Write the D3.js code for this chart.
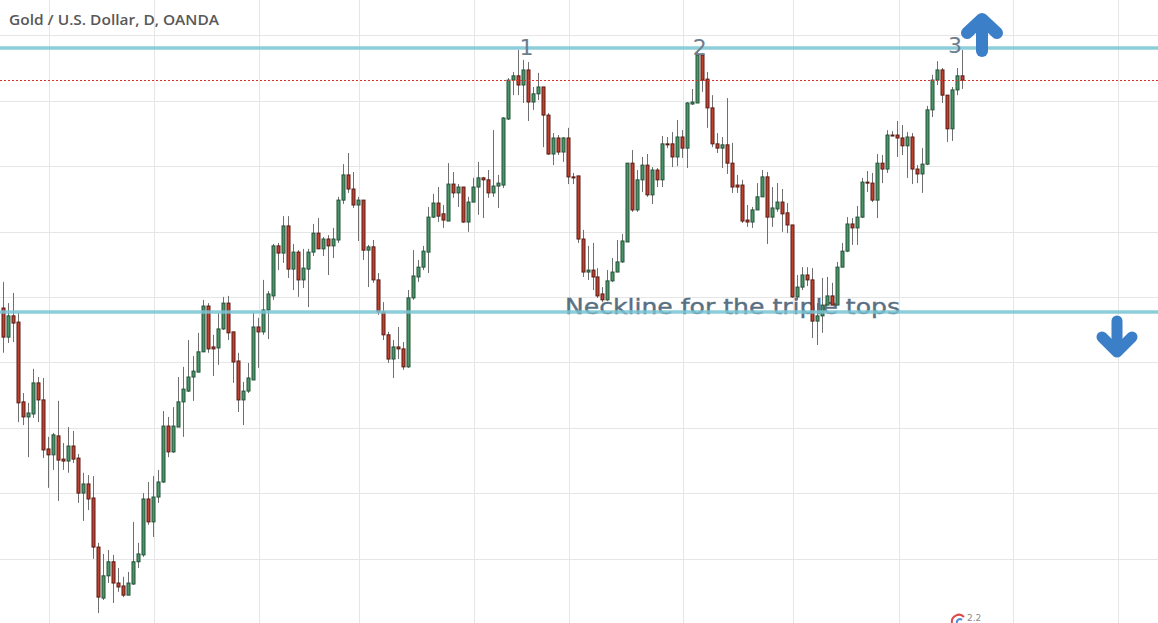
<!DOCTYPE html>
<html>
<head>
<meta charset="utf-8">
<script src="https://cdn.jsdelivr.net/npm/d3@7"></script>
<style>
  html, body { margin: 0; padding: 0; background: #ffffff; }
  svg { display: block; }
</style>
</head>
<body>
<div id="chart"></div>
<script>
// ---------- DATA ----------
const title = "Gold / U.S. Dollar, D, OANDA";
const annotation = "Neckline for the triple tops";

const open = [
1296.6,1287.7,1294.2,1292.3,1267.9,1263.3,1264.2,1273.7,1268.5,1253.5,
1251.7,1257.5,1250.4,1249.8,1254.4,1250.7,1240.0,1242.8,1238.5,1223.5,
1207.9,1214.7,1219.0,1212.5,1211.6,1208.8,1212.2,1219.0,1221.1,1238.2,
1231.2,1238.8,1243.4,1260.5,1252.6,1260.2,1267.9,1271.2,1275.5,1277.0,
1283.2,1297.2,1284.7,1284.4,1290.2,1298.1,1289.3,1280.4,1268.5,1271.2,
1274.6,1290.8,1289.3,1296.0,1300.3,1315.6,1313.4,1321.7,1308.5,1313.7,
1305.2,1308.5,1313.7,1319.5,1314.7,1317.7,1315.6,1317.4,1329.6,1337.3,
1333.0,1328.1,1329.6,1314.3,1315.3,1305.2,1295.4,1288.4,1281.0,1284.7,
1284.1,1278.6,1299.7,1306.1,1309.1,1313.7,1324.4,1328.7,1325.4,1323.2,
1334.5,1331.8,1333.6,1322.9,1329.0,1333.6,1336.4,1335.8,1331.8,1333.9,
1334.2,1354.4,1366.3,1367.6,1364.8,1369.4,1359.6,1362.1,1364.2,1355.6,
1343.7,1348.6,1344.3,1348.6,1336.7,1337.0,1317.7,1307.6,1308.2,1306.1,
1300.9,1299.1,1304.9,1307.6,1310.7,1316.8,1340.9,1326.6,1335.8,1340.3,
1331.2,1338.8,1335.8,1346.8,1346.8,1342.8,1348.9,1345.5,1359.0,1359.3,
1374.0,1366.6,1357.8,1346.8,1345.5,1346.5,1340.9,1334.2,1334.2,1323.5,
1322.9,1326.6,1330.6,1336.7,1324.4,1326.9,1329.0,1325.7,1322.0,1300.0,
1303.0,1306.7,1305.2,1292.6,1294.2,1297.5,1300.3,1297.5,1309.1,1314.0,
1322.3,1321.1,1324.4,1335.1,1334.8,1329.6,1340.9,1339.1,1349.5,1349.5,
1348.6,1346.2,1348.9,1339.1,1337.6,1340.6,1357.2,1366.3,1369.4,1361.7,
1351.4,1363.3,1367.6];

const high = [
1304.6,1298.1,1301.2,1295.1,1270.6,1267.6,1278.0,1275.5,1275.2,1257.2,
1258.4,1268.2,1255.3,1260.2,1259.0,1252.0,1246.2,1245.5,1245.2,1224.8,
1221.4,1222.6,1221.1,1217.1,1214.4,1215.9,1231.2,1224.8,1240.0,1243.4,
1245.2,1247.1,1265.1,1263.3,1266.3,1275.5,1278.6,1286.8,1281.9,1289.0,
1299.1,1298.1,1288.4,1295.1,1300.0,1300.3,1289.3,1282.9,1274.0,1279.8,
1295.1,1293.6,1305.2,1301.8,1316.2,1316.5,1324.7,1324.7,1316.2,1314.3,
1314.7,1314.7,1322.3,1324.1,1318.3,1318.9,1321.1,1330.6,1340.6,1344.0,
1338.2,1330.6,1329.6,1315.9,1317.4,1307.3,1298.4,1289.3,1286.8,1290.8,
1286.2,1302.1,1314.3,1311.3,1315.6,1327.5,1331.5,1333.6,1328.1,1340.9,
1338.2,1334.5,1333.6,1330.6,1336.4,1341.3,1336.7,1338.8,1351.0,1337.3,
1355.0,1366.9,1368.8,1375.5,1372.5,1371.8,1364.2,1368.5,1364.2,1356.2,
1350.1,1349.5,1348.9,1351.7,1337.9,1337.0,1320.5,1315.6,1316.5,1308.8,
1303.0,1308.2,1311.9,1317.4,1319.2,1340.9,1344.9,1338.8,1342.8,1343.7,
1339.7,1339.4,1349.2,1348.9,1350.4,1354.1,1351.0,1359.6,1363.6,1374.9,
1374.6,1368.8,1361.7,1350.1,1348.9,1360.8,1347.1,1337.3,1335.8,1328.1,
1327.5,1334.8,1338.8,1338.2,1333.6,1334.8,1333.0,1328.7,1322.0,1306.7,
1309.1,1309.1,1308.8,1298.1,1305.8,1306.1,1304.3,1310.7,1316.5,1324.4,
1324.1,1327.8,1336.4,1338.5,1337.9,1343.7,1343.4,1351.0,1350.7,1353.8,
1352.6,1350.4,1350.1,1340.3,1345.5,1358.4,1367.9,1372.1,1370.0,1361.7,
1364.2,1370.0,1375.5];

const low = [
1282.9,1285.9,1286.2,1261.7,1260.8,1251.0,1263.0,1261.7,1250.7,1241.6,
1247.1,1237.6,1247.1,1246.2,1249.2,1237.0,1231.5,1234.8,1219.9,1203.3,
1207.3,1212.5,1206.4,1209.8,1208.2,1208.8,1211.9,1217.1,1220.5,1230.3,
1226.6,1237.0,1243.1,1251.0,1252.3,1260.2,1257.2,1270.9,1268.2,1277.0,
1283.2,1282.9,1275.8,1279.2,1289.9,1286.8,1273.7,1264.8,1260.8,1270.6,
1274.6,1278.3,1288.4,1287.1,1299.1,1308.2,1310.4,1305.8,1302.1,1300.0,
1302.7,1296.9,1312.5,1314.7,1312.5,1306.7,1311.9,1316.5,1328.4,1331.8,
1327.2,1317.1,1311.3,1303.0,1304.3,1294.5,1286.8,1279.8,1275.2,1281.0,
1277.7,1278.3,1299.1,1304.6,1308.2,1307.3,1324.1,1322.9,1321.1,1323.2,
1330.3,1327.5,1322.6,1319.9,1329.0,1325.1,1324.1,1330.3,1330.6,1327.2,
1333.3,1354.1,1361.7,1361.7,1359.3,1353.8,1357.2,1360.2,1345.8,1343.4,
1340.3,1343.4,1341.3,1334.5,1334.5,1316.5,1306.1,1305.2,1302.1,1299.7,
1298.4,1298.8,1304.6,1307.6,1310.4,1316.8,1326.0,1326.0,1332.1,1330.6,
1328.4,1333.6,1333.6,1345.5,1339.7,1340.0,1342.5,1339.4,1358.7,1359.3,
1362.7,1351.7,1345.8,1344.0,1339.4,1337.6,1331.8,1331.8,1322.6,1321.4,
1321.1,1326.6,1330.6,1316.2,1321.4,1326.0,1319.9,1319.5,1299.7,1299.1,
1302.1,1303.3,1287.4,1285.3,1289.0,1297.5,1297.5,1297.5,1309.1,1313.7,
1315.9,1315.9,1324.1,1332.1,1329.0,1324.1,1334.8,1337.9,1349.2,1342.8,
1343.4,1336.4,1334.5,1334.8,1331.8,1340.3,1355.0,1364.8,1359.3,1347.4,
1347.7,1361.7,1363.6];

const close = [
1287.7,1294.2,1292.0,1267.6,1263.3,1264.5,1273.7,1268.5,1253.2,1251.7,
1257.8,1250.1,1249.8,1254.4,1250.4,1240.0,1242.8,1238.2,1223.5,1208.2,
1214.7,1219.0,1212.5,1211.3,1208.8,1212.5,1219.0,1221.4,1238.2,1231.2,
1238.8,1243.4,1260.5,1252.6,1260.5,1267.9,1271.8,1275.5,1277.3,1283.2,
1297.2,1284.1,1284.1,1290.2,1298.1,1289.0,1280.1,1268.5,1271.2,1275.2,
1290.8,1289.3,1296.0,1300.9,1315.6,1313.4,1321.7,1308.5,1313.7,1305.2,
1308.8,1313.7,1319.5,1314.7,1317.7,1315.6,1317.7,1329.6,1337.3,1333.0,
1328.1,1329.6,1314.3,1315.3,1305.2,1295.4,1288.4,1281.0,1284.7,1284.1,
1278.6,1299.7,1306.4,1309.1,1314.0,1324.4,1328.7,1324.7,1323.5,1334.5,
1331.8,1333.6,1322.9,1329.0,1333.6,1336.4,1335.8,1331.8,1333.9,1334.8,
1354.7,1366.3,1367.6,1364.8,1369.4,1359.6,1362.1,1364.2,1355.6,1343.7,
1348.6,1344.3,1348.6,1336.7,1336.4,1317.7,1307.6,1308.2,1306.1,1300.3,
1299.1,1304.9,1307.6,1310.7,1317.1,1340.9,1326.6,1335.8,1340.3,1331.2,
1338.8,1335.8,1346.8,1346.5,1342.8,1348.9,1345.5,1359.3,1359.6,1374.0,
1366.3,1357.8,1346.8,1345.5,1346.5,1340.9,1333.6,1333.6,1323.2,1322.9,
1326.6,1330.6,1336.7,1324.4,1327.2,1329.0,1325.4,1322.0,1300.0,1303.0,
1306.7,1305.2,1292.6,1294.2,1297.5,1300.3,1297.5,1309.1,1314.0,1322.3,
1321.1,1324.4,1335.1,1334.8,1329.6,1340.9,1339.1,1349.5,1349.2,1348.6,
1346.2,1348.9,1339.1,1337.6,1340.6,1357.2,1366.3,1369.4,1361.7,1351.4,
1363.3,1367.6,1366.3];

// horizontal grid levels (price) and vertical grid positions (bar index)
const priceTicks = [1220, 1240, 1260, 1280, 1300, 1320, 1340, 1360, 1380];
const timeGridIdx = [9.15, 30.2, 51.2, 71.2, 94.3, 113.3, 136.1, 158.2, 179.4, 202.2, 223.2];

// drawn horizontal levels
const resistanceLevel = 1376.1;
const necklineLevel = 1295.4;
const lastPrice = close[close.length - 1];

// peak labels
const peakLabels = ["1", "2", "3"];
const peakIdx = [104.8, 139.5, 190.6];
const peakPrice = [1373.9, 1373.9, 1374.5];

// ---------- LAYOUT ----------
const W = 1158, H = 623;
const svg = d3.select("#chart").append("svg")
  .attr("width", W).attr("height", H)
  .style("font-family", "'DejaVu Sans', sans-serif");

const n = close.length;
const x = d3.scaleLinear().domain([0, n - 1]).range([3.3, 962]);
const y = d3.scaleLinear().domain([1200, 1380]).range([623.9, 35.3]);

const candles = d3.range(n).map(i => ({ i, o: open[i], h: high[i], l: low[i], c: close[i] }));

// grid
const grid = svg.append("g").attr("class", "grid");
grid.selectAll("line.h").data(priceTicks).join("line")
  .attr("x1", 0).attr("x2", W)
  .attr("y1", d => Math.round(y(d)) + 0.5).attr("y2", d => Math.round(y(d)) + 0.5)
  .attr("stroke", "#e6e6e6").attr("stroke-width", 1);
grid.selectAll("line.v").data(timeGridIdx).join("line")
  .attr("y1", 0).attr("y2", H)
  .attr("x1", d => Math.round(x(d)) + 0.5).attr("x2", d => Math.round(x(d)) + 0.5)
  .attr("stroke", "#e6e6e6").attr("stroke-width", 1);

// title
svg.append("text")
  .attr("x", 9).attr("y", 25)
  .attr("font-family", "'Open Sans', sans-serif")
  .attr("font-weight", 600).attr("font-size", 14)
  .attr("fill", "#585858")
  .attr("textLength", 210).attr("lengthAdjust", "spacingAndGlyphs")
  .text(title);

// neckline annotation (under candles)
svg.append("text")
  .attr("x", 565).attr("y", y(necklineLevel) + 2)
  .attr("font-size", 22)
  .attr("fill", "#587082")
  .attr("stroke", "#587082").attr("stroke-width", 0.4)
  .attr("textLength", 335).attr("lengthAdjust", "spacingAndGlyphs")
  .text(annotation);

// candles
const upFill = "#4b9566", upStroke = "#23523a";
const dnFill = "#bd4330", dnStroke = "#5b1a13";
const cg = svg.append("g").attr("class", "candles");
cg.selectAll("line.wick").data(candles).join("line")
  .attr("x1", d => Math.round(x(d.i)) + 0.5).attr("x2", d => Math.round(x(d.i)) + 0.5)
  .attr("y1", d => y(d.h)).attr("y2", d => y(d.l))
  .attr("stroke", "#6f6f6f").attr("stroke-width", 1);
cg.selectAll("rect.body").data(candles).join("rect")
  .attr("x", d => Math.round(x(d.i)) - 1)
  .attr("width", 3)
  .attr("y", d => y(Math.max(d.o, d.c)))
  .attr("height", d => Math.max(1, Math.abs(y(d.o) - y(d.c))))
  .attr("fill", d => d.c >= d.o ? upFill : dnFill)
  .attr("stroke", d => d.c >= d.o ? upStroke : dnStroke)
  .attr("stroke-width", 1);

// horizontal levels
svg.selectAll("line.level").data([resistanceLevel, necklineLevel]).join("line")
  .attr("x1", 0).attr("x2", W)
  .attr("y1", d => y(d)).attr("y2", d => y(d))
  .attr("stroke", "#79c4d4").attr("stroke-width", 3.6).attr("stroke-opacity", 0.85);

// last price dotted line
svg.append("line")
  .attr("x1", 0).attr("x2", W)
  .attr("y1", Math.round(y(lastPrice)) + 0.5).attr("y2", Math.round(y(lastPrice)) + 0.5)
  .attr("stroke", "#e0302a").attr("stroke-width", 1)
  .attr("stroke-dasharray", "2,2");

// peak labels
svg.selectAll("text.peak").data(peakLabels).join("text")
  .attr("x", (d, k) => x(peakIdx[k]))
  .attr("y", (d, k) => y(peakPrice[k]))
  .attr("text-anchor", "middle")
  .attr("font-size", 22)
  .attr("fill", "#6b7d8e")
  .text(d => d);

// arrows
const arrowColor = "#3b7fc8";
const up = svg.append("g").attr("fill", "none").attr("stroke", arrowColor)
  .attr("stroke-linecap", "round").attr("stroke-linejoin", "round");
up.append("path").attr("d", "M982,51 L982,21").attr("stroke-width", 12);
up.append("path").attr("d", "M967,33 L982,19 L997,33").attr("stroke-width", 12);

const dn = svg.append("g").attr("fill", "none").attr("stroke", arrowColor)
  .attr("stroke-linecap", "round").attr("stroke-linejoin", "round");
dn.append("path").attr("d", "M1117,321 L1117,350").attr("stroke-width", 11);
dn.append("path").attr("d", "M1102,337 L1117,352 L1132,337").attr("stroke-width", 11);

// small watermark logo (bottom)
svg.append("path")
  .attr("d", "M952,623 A7,7 0 0 1 964,617")
  .attr("fill", "none").attr("stroke", "#e04848").attr("stroke-width", 2);
svg.append("path")
  .attr("d", "M957,623 A3,3 0 0 1 962,620")
  .attr("fill", "none").attr("stroke", "#4a8fd8").attr("stroke-width", 2);
svg.append("text")
  .attr("x", 967).attr("y", 621)
  .attr("font-size", 9).attr("fill", "#8a8a8a")
  .text("2.2");
</script>
</body>
</html>
